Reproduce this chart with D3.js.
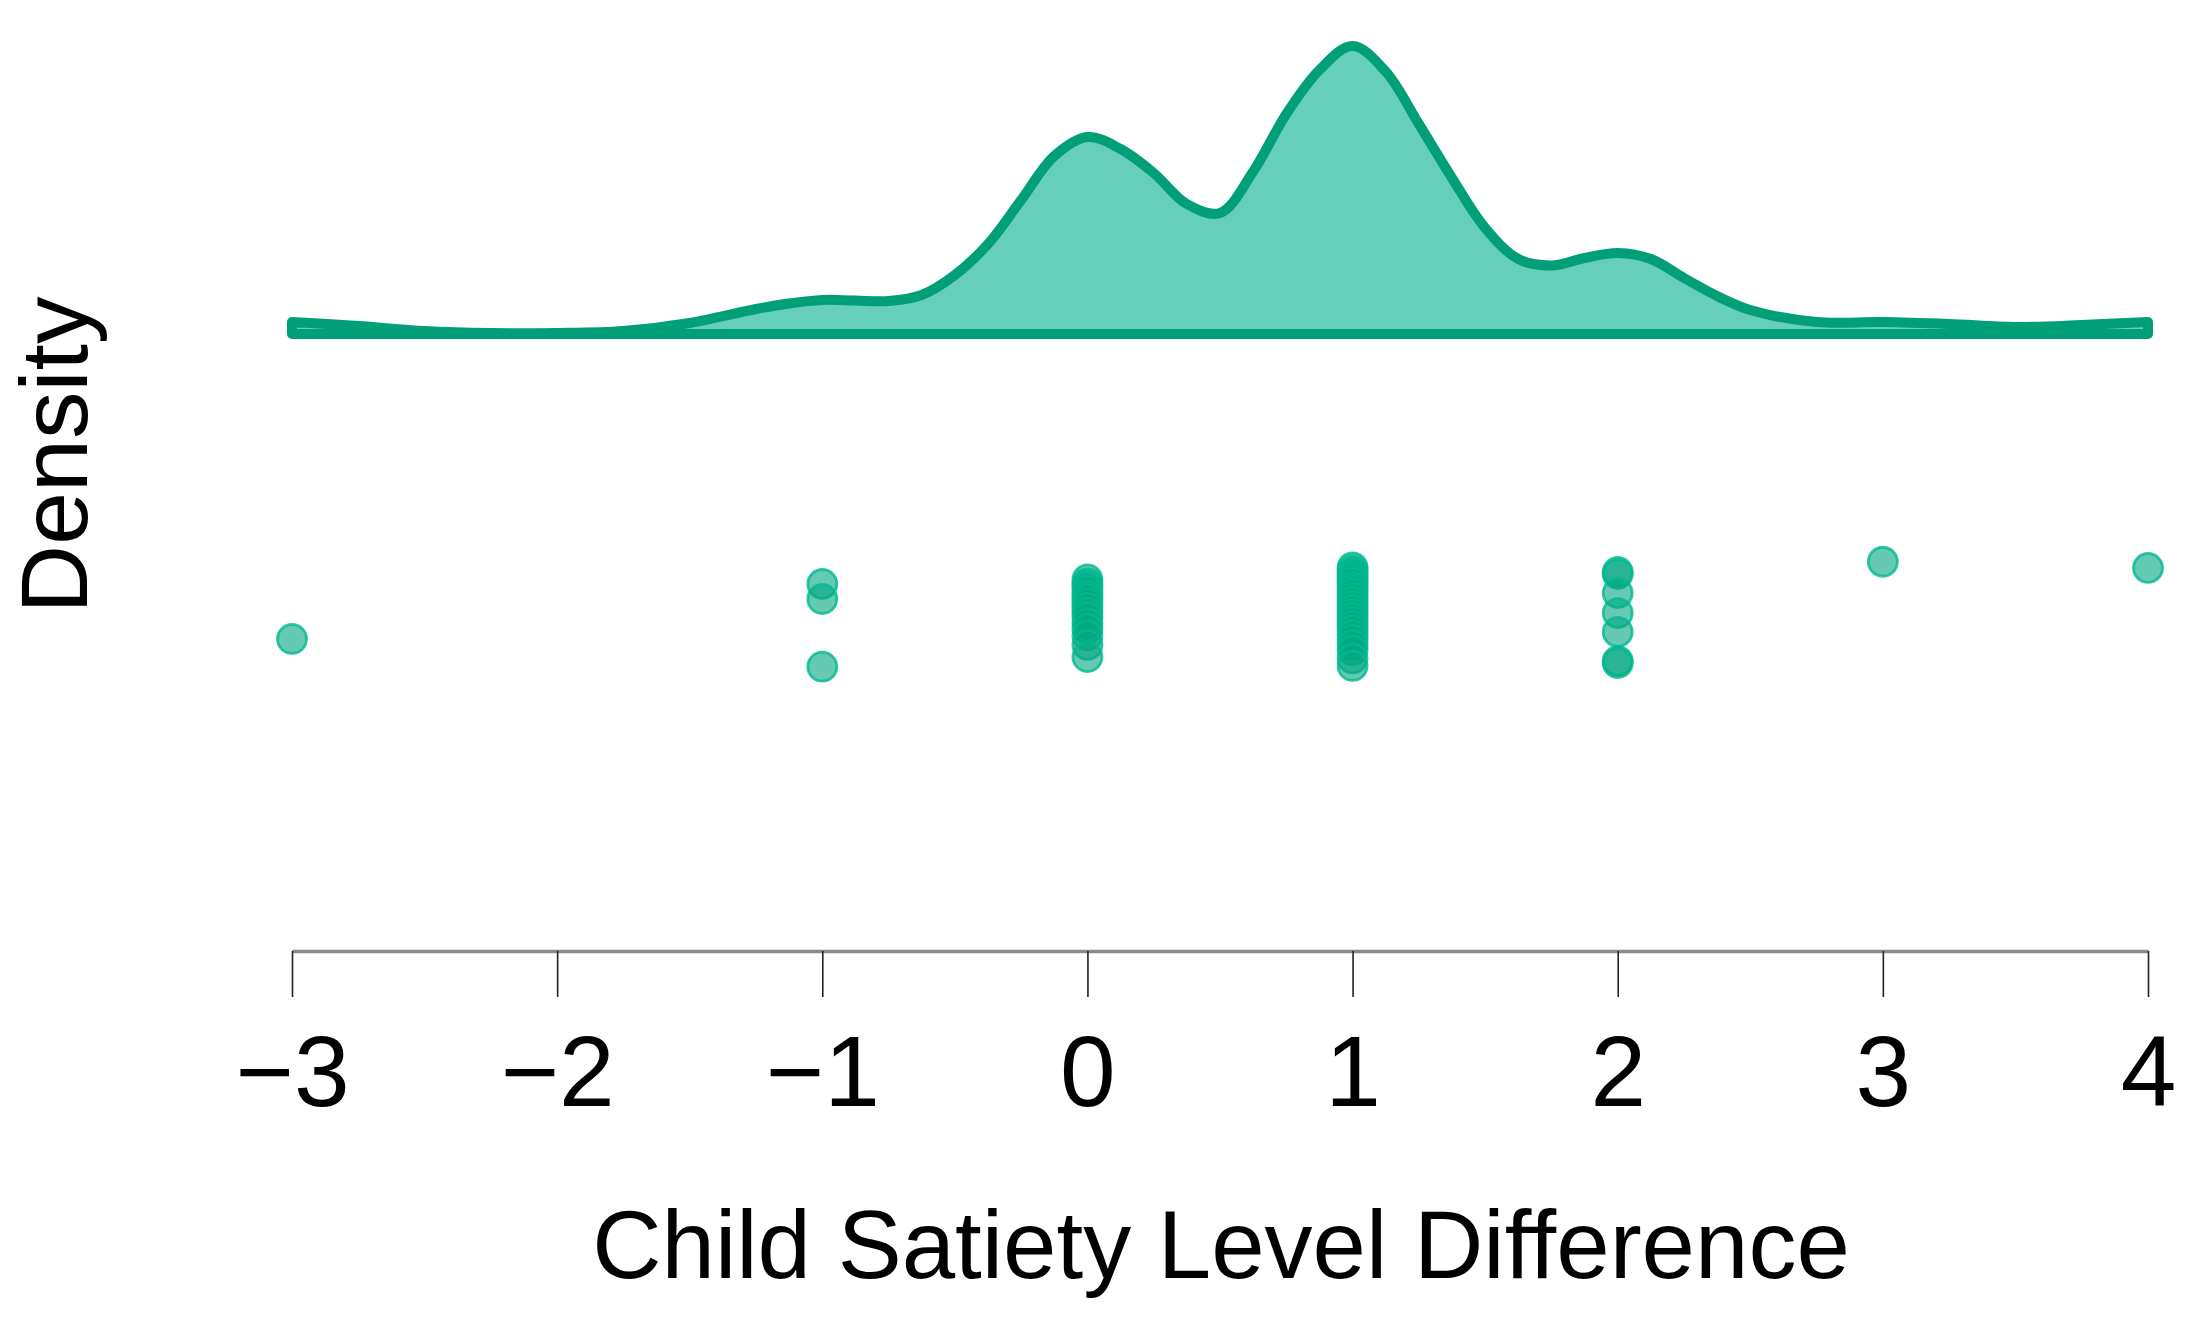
<!DOCTYPE html>
<html>
<head>
<meta charset="utf-8">
<script src="https://cdn.jsdelivr.net/npm/d3@7"></script>
<style>
  html, body { margin: 0; padding: 0; background: #ffffff; }
  svg { display: block; }
  text { font-family: "Liberation Sans", Arial, Helvetica, sans-serif; fill: #000; }
</style>
</head>
<body>
<svg id="chart" width="2199" height="1323"></svg>
<script>
// ---- Data ----
const xTicks = [-3, -2, -1, 0, 1, 2, 3, 4];
const xTitle = "Child Satiety Level Difference";
const yTitle = "Density";

// density curve (x grid, density value)
const densityX = [-3, -2.75, -2.5, -2.25, -2, -1.75, -1.5, -1.25, -1.125, -1, -0.875, -0.75, -0.625,
                  -0.5, -0.375, -0.25, -0.125, 0, 0.125, 0.25, 0.375, 0.5, 0.625, 0.75, 0.875,
                  1, 1.125, 1.25, 1.375, 1.5, 1.625, 1.75, 1.875, 2, 2.125, 2.25, 2.375, 2.5,
                  2.75, 3, 3.25, 3.5, 3.75, 4];
const densityY = [0.024, 0.016, 0.006, 0.002, 0.002, 0.006, 0.022, 0.050, 0.061, 0.068, 0.067, 0.066, 0.078,
                  0.118, 0.180, 0.268, 0.356, 0.394, 0.370, 0.322, 0.260, 0.242, 0.325, 0.440, 0.528,
                  0.576, 0.525, 0.420, 0.312, 0.212, 0.150, 0.137, 0.152, 0.162, 0.150, 0.112, 0.076, 0.048,
                  0.024, 0.024, 0.020, 0.014, 0.018, 0.024];

// raw observations (value) and their vertical jitter (0..1)
const pointValues = [
  -3,
  -1, -1, -1,
  0, 0, 0, 0, 0, 0, 0, 0, 0, 0, 0, 0, 0, 0, 0,
  1, 1, 1, 1, 1, 1, 1, 1, 1, 1, 1, 1, 1, 1, 1, 1, 1, 1, 1, 1, 1, 1, 1, 1,
  2, 2, 2, 2, 2, 2, 2,
  3,
  4
];
const pointJitter = [
  0.304,
  0.711, 0.600, 0.099,
  0.745, 0.715, 0.690, 0.660, 0.625, 0.600, 0.570, 0.535, 0.500, 0.465, 0.420, 0.380, 0.330, 0.260, 0.170,
  0.835, 0.810, 0.790, 0.765, 0.740, 0.720, 0.690, 0.665, 0.640, 0.610, 0.580, 0.550, 0.520, 0.490,
  0.460, 0.430, 0.400, 0.370, 0.335, 0.300, 0.260, 0.220, 0.160, 0.104,
  0.800, 0.785, 0.644, 0.496, 0.356, 0.140, 0.126,
  0.876,
  0.830
];

// ---- Layout ----
const svg = d3.select("#chart");
const x = d3.scaleLinear().domain([-3, 4]).range([292, 2148]);
const yDens = d3.scaleLinear().domain([0, 0.576]).range([334, 46]);
const yJit = d3.scaleLinear().domain([0, 1]).range([680, 545]);

const strokeCol = "#009F77";
const fillCol = "rgb(0,175,140)";

// density area
const dens = densityX.map((d, i) => ({ x: d, y: densityY[i] }));
const area = d3.area()
  .x(d => x(d.x))
  .y0(yDens(0))
  .y1(d => yDens(d.y))
  .curve(d3.curveCatmullRom.alpha(0.5));

svg.append("path")
  .datum(dens)
  .attr("d", area)
  .attr("fill", fillCol)
  .attr("fill-opacity", 0.6)
  .attr("stroke", "none");

// outline (closed polygon incl. baseline)
svg.append("path")
  .datum(dens)
  .attr("d", area)
  .attr("fill", "none")
  .attr("stroke", strokeCol)
  .attr("stroke-width", 10)
  .attr("stroke-linejoin", "round")
  .attr("stroke-linecap", "round");

// points
const pts = pointValues.map((v, i) => ({ v, j: pointJitter[i] }));
svg.append("g").selectAll("circle")
  .data(pts)
  .join("circle")
  .attr("cx", d => x(d.v))
  .attr("cy", d => yJit(d.j))
  .attr("r", 14.5)
  .attr("fill", "rgb(0,166,126)")
  .attr("fill-opacity", 0.6)
  .attr("stroke", "rgb(0,185,145)")
  .attr("stroke-opacity", 0.8)
  .attr("stroke-width", 2.8);

// x axis
const axisY = 951;
const axis = d3.axisBottom(x)
  .tickValues(xTicks)
  .tickSize(46)
  .tickSizeOuter(0)
  .tickFormat(d => d < 0 ? "\u2212" + Math.abs(d) : String(d));
const gAxis = svg.append("g")
  .attr("transform", `translate(0,${axisY})`)
  .call(axis);
gAxis.select(".domain").attr("stroke", "#8a8a8a").attr("stroke-width", 3.5);
gAxis.selectAll(".tick line").attr("stroke", "#222").attr("stroke-width", 1.6);
gAxis.selectAll(".tick text")
  .attr("y", 155)
  .attr("dy", 0)
  .attr("fill", "#000")
  .style("font-size", "100px")
  .style("font-family", '"Liberation Sans", Arial, sans-serif');

// axis titles
svg.append("text")
  .attr("x", 1221)
  .attr("y", 1278)
  .attr("text-anchor", "middle")
  .style("font-size", "96px")
  .text(xTitle);

svg.append("text")
  .attr("transform", "translate(87,455) rotate(-90)")
  .attr("text-anchor", "middle")
  .style("font-size", "95px")
  .text(yTitle);
</script>
</body>
</html>
